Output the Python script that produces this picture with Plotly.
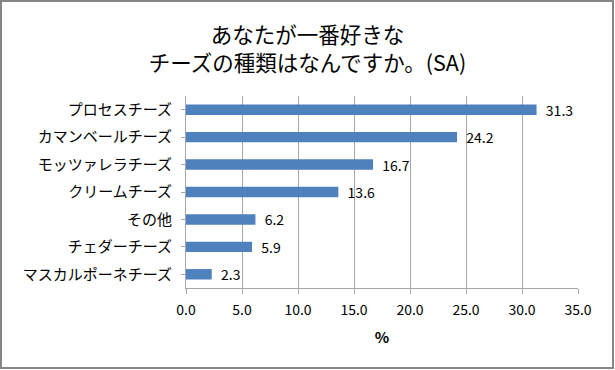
import plotly.graph_objects as go

categories = ["プロセスチーズ", "カマンベールチーズ", "モッツァレラチーズ", "クリームチーズ",
              "その他", "チェダーチーズ", "マスカルポーネチーズ"]
values = [31.3, 24.2, 16.7, 13.6, 6.2, 5.9, 2.3]
x_ticks = [0, 5, 10, 15, 20, 25, 30, 35]
x_tick_labels = ["0.0", "5.0", "10.0", "15.0", "20.0", "25.0", "30.0", "35.0"]
title_text = "あなたが一番好きな<br>チーズの種類はなんですか。(SA)"
x_title = "<b>%</b>"

FONT = "Noto Sans CJK JP"

fig = go.Figure(go.Bar(
    x=values, y=categories, orientation="h",
    marker=dict(color="#4F81BD", line=dict(width=0)),
    width=0.38,
    text=["\u00a0\u00a0" + f"{v:.1f}" for v in values], textposition="outside",
    constraintext="none",
    textfont=dict(size=14, color="#000000", family=FONT),
    cliponaxis=False,
))

L, R, T, B = 186, 37, 96, 82
W, H = 615, 370
pw, ph = W - L - R, H - T - B

fig.update_layout(
    width=W, height=H,
    margin=dict(l=L, r=R, t=T, b=B, autoexpand=False),
    paper_bgcolor="white", plot_bgcolor="white",
    font=dict(family=FONT, color="#000000"),
    showlegend=False,
    title=dict(text=title_text, x=0.5, xanchor="center", y=0.885, yanchor="top",
               font=dict(size=21.5, family=FONT, color="#000000")),
    xaxis=dict(range=[0, 35], tickvals=x_ticks, ticktext=x_tick_labels,
               showgrid=True, gridcolor="#A6A6A6", gridwidth=1,
               showline=True, linecolor="#A6A6A6", linewidth=1,
               ticks="outside", ticklen=5, tickcolor="#A6A6A6",
               ticklabelstandoff=4,
               tickfont=dict(size=14, family=FONT), zeroline=False,
               title=dict(text=x_title, font=dict(size=15, family=FONT), standoff=14)),
    yaxis=dict(categoryorder="array", categoryarray=categories[::-1],
               showline=True, linecolor="#A6A6A6", linewidth=1,
               ticks="outside", ticklen=4, tickcolor="#A6A6A6",
               ticklabelstandoff=6,
               tickfont=dict(size=15, family=FONT)),
    shapes=[dict(type="rect", xref="paper", yref="paper",
                 x0=(1 - L) / pw, x1=(W - 2 - L) / pw,
                 y0=(T + ph - (H - 2)) / ph, y1=(T + ph - 1) / ph,
                 line=dict(color="#868686", width=2), fillcolor="rgba(0,0,0,0)")],
)

fig.write_html("out.html", config={"displayModeBar": False},
               post_script="document.body.style.margin='0';")
